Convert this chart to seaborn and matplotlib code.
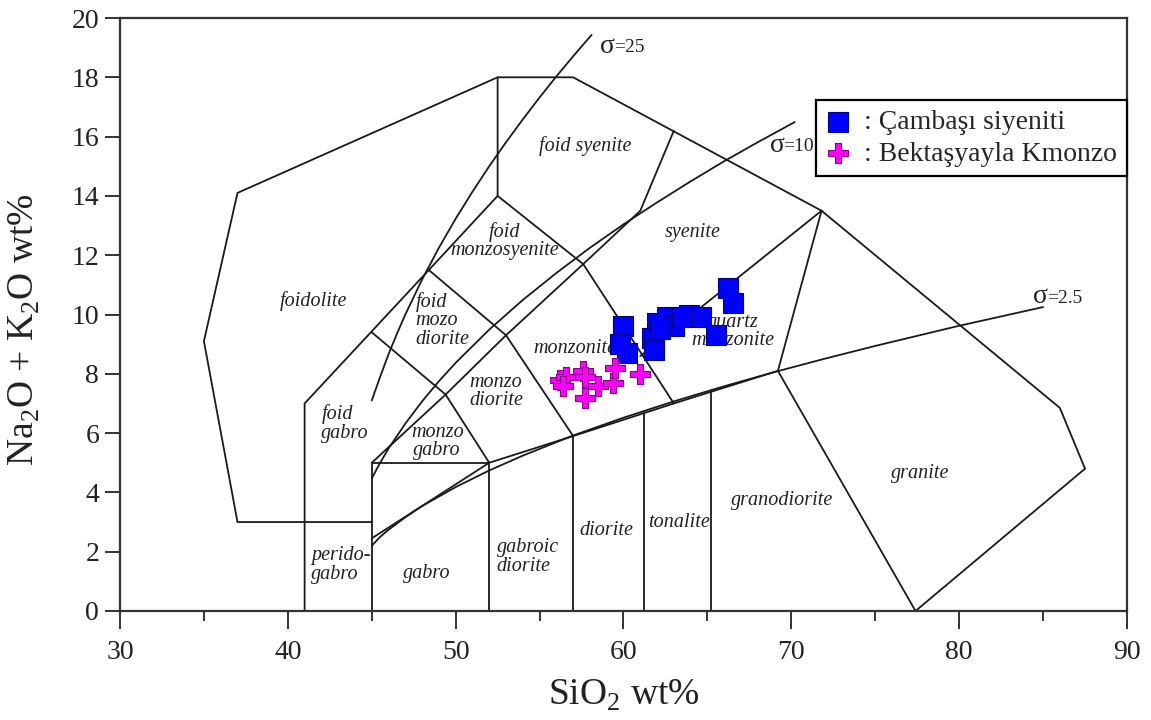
import matplotlib
matplotlib.use("Agg")
import matplotlib.pyplot as plt
import seaborn as sns
import pandas as pd

# Echantillons (SiO2, Na2O+K2O)
cambasi_sio2 = [66.2, 66.5, 60.0, 59.8, 60.2, 62.0, 62.6, 63.0, 63.9, 64.6, 63.5, 65.5, 61.7, 61.8, 62.2]
cambasi_alk = [10.9, 10.4, 9.6, 9.0, 8.7, 9.7, 9.9, 9.6, 10.0, 9.9, 9.9, 9.3, 9.2, 8.8, 9.5]
bektas_sio2 = [56.2, 56.6, 57.6, 57.7, 57.7, 58.5, 59.4, 59.5, 61.0, 56.4]
bektas_alk = [7.8, 7.9, 8.1, 7.9, 7.2, 7.6, 7.7, 8.2, 8.0, 7.6]

series_labels = [": Çambaşı siyeniti", ": Bektaşyayla Kmonzo"]

# Limites des champs (Middlemost)
outer_line = [(45, 3), (37, 3), (35, 9.1), (37, 14.1), (52.5, 18), (57, 18), (71.8, 13.5),
              (86, 6.85), (87.5, 4.8), (77.4, 0), (69.2, 8.1), (71.8, 13.5)]
foid_edge = [(41, 0), (41, 7), (48.4, 11.5), (52.5, 14), (52.5, 18)]
foid_gabbro_top = [(45, 9.4), (49.4, 7.3), (52, 5)]
foid_monzo_line = [(48.4, 11.5), (53, 9.3), (57, 5.9)]
foid_syenite_base = [(52.5, 14), (57.6, 11.7), (63, 7)]
foid_limit = [(45, 5), (49.4, 7.3), (53, 9.3), (57.6, 11.7), (61, 13.5), (63, 16.2)]
qmz_line = [(61, 8.6), (71.8, 13.5)]
alkali_line = [(45, 2.45), (52, 5), (57, 5.9), (63, 7), (69.2, 8.1)]
gabbro_box = [(45, 0), (45, 5), (52, 5), (52, 0)]
diorite_line = [(57, 0), (57, 5.9)]
tonalite_line = [(61.2, 0), (61.2, 6.7)]
granodiorite_line = [(65.2, 0), (65.2, 7.4)]

# Courbes sigma (Rittmann), points relevés
sigma25 = [(45, 7.1), (45.5, 7.9), (46, 8.66), (46.5, 9.35), (47, 10.0), (48, 11.18),
           (49, 12.25), (50, 13.23), (51, 14.14), (52, 15.0), (53, 15.81), (54, 16.58),
           (55, 17.32), (56, 18.03), (57, 18.71), (58.1, 19.43)]
sigma10 = [(45, 4.47), (45.5, 5.0), (46, 5.48), (47, 6.32), (48, 7.07), (49, 7.75), (50, 8.37),
           (52, 9.49), (54, 10.49), (56, 11.4), (58, 12.25), (60, 13.04), (62, 13.78),
           (64, 14.49), (66, 15.17), (68, 15.81), (70.2, 16.49)]
sigma25b = [(45, 2.2), (45.5, 2.5), (46, 2.74), (47, 3.16), (48, 3.54), (50, 4.18), (52, 4.74),
            (54, 5.24), (57, 5.92), (60, 6.52), (63, 7.07), (66, 7.58), (69, 8.06),
            (72, 8.51), (75, 8.94), (80, 9.62), (85, 10.25)]

field_names = ["foid syenite", "foid\nmonzosyenite", "syenite", "foidolite", "monzonite",
               "quartz\nmonzonite", "monzo\ndiorite", "monzo\ngabro", "gabro", "diorite",
               "tonalite", "granodiorite", "granite"]
field_pos = [(57.7, 15.68), (52.9, 12.47), (64.15, 12.77), (41.5, 10.47), (57.1, 8.85),
             (66.5, 9.43), (52.4, 7.4), (48.9, 5.71), (48.3, 1.25), (58.96, 2.7),
             (63.3, 3.0), (69.45, 3.72), (77.7, 4.63)]
left_names = ["foid\nmozo\ndiorite", "foid\ngabro", "perido-\ngabro", "gabroic\ndiorite"]
left_pos = [(47.6, 9.8), (42.0, 6.32), (41.4, 1.55), (52.45, 1.82)]
sigma_values = ["=25", "=10", "=2.5"]
sigma_pos = [(58.6, 19.05), (68.7, 15.7), (84.4, 10.6)]

sns.set_theme(style="ticks")
plt.rcParams['font.family'] = ['Liberation Serif', 'DejaVu Serif']
plt.rcParams['mathtext.fontset'] = 'custom'
plt.rcParams['mathtext.rm'] = 'Liberation Serif'

fig = plt.figure(figsize=(11.51, 7.2), dpi=100)
ax = fig.add_axes([120 / 1151, 109 / 720, 1007 / 1151, 593 / 720])

lc = "#1a1a1a"
for line in [outer_line, foid_edge, foid_gabbro_top, foid_monzo_line, foid_syenite_base,
             foid_limit, qmz_line, alkali_line, gabbro_box, diorite_line, tonalite_line,
             granodiorite_line, sigma25, sigma10, sigma25b]:
    xs = [p[0] for p in line]
    ys = [p[1] for p in line]
    ax.plot(xs, ys, color=lc, lw=1.3, solid_joinstyle="miter")

for name, (x, y) in zip(field_names, field_pos):
    ax.text(x, y, name, ha="center", va="center", fontsize=14.5, style="italic",
            linespacing=0.95, color="#222222")
for name, (x, y) in zip(left_names, left_pos):
    ax.text(x, y, name, ha="left", va="center", fontsize=14.5, style="italic",
            linespacing=0.95, color="#222222")
for val, (x, y) in zip(sigma_values, sigma_pos):
    ax.text(x, y, "σ", ha="left", va="center", fontsize=20, color="#222222")
    ax.annotate(val, (x, y), xytext=(10, -1), textcoords="offset points",
                ha="left", va="center", fontsize=14, color="#222222")

df_c = pd.DataFrame({"SiO2": cambasi_sio2, "alk": cambasi_alk})
df_b = pd.DataFrame({"SiO2": bektas_sio2, "alk": bektas_alk})
sns.scatterplot(data=df_c, x="SiO2", y="alk", marker="s", s=200, color="#0000ff",
                edgecolor="#00008b", linewidth=0.8, label=series_labels[0], ax=ax, zorder=5)
sns.scatterplot(data=df_b, x="SiO2", y="alk", marker="P", s=190, color="#ff00ff",
                edgecolor="#8b008b", linewidth=0.8, label=series_labels[1], ax=ax, zorder=6)

ax.set_xlim(30, 90)
ax.set_ylim(0, 20)
ax.set_xticks(range(30, 91, 10))
ax.set_xticks(range(35, 90, 10), minor=True)
ax.set_yticks(range(0, 21, 2))
ax.tick_params(axis="x", which="major", direction="out", length=13, width=1.3,
               labelsize=20, pad=8, colors="#222222")
ax.tick_params(axis="x", which="minor", direction="out", length=7, width=1.3)
ax.tick_params(axis="y", direction="out", length=11, width=1.3, labelsize=20, pad=4,
               colors="#222222")
for sp in ax.spines.values():
    sp.set_linewidth(1.6)
    sp.set_color("#333333")

ax.set_xlabel("SiO$_\\mathregular{2}$ wt%", fontsize=27, labelpad=9, color="#222222")
ax.set_ylabel("Na$_\\mathregular{2}$O + K$_\\mathregular{2}$O wt%", fontsize=27,
              color="#222222")
ax.yaxis.set_label_coords(-0.077, 0.474)

leg = ax.legend(loc="upper left", bbox_to_anchor=(0.691, 0.732, 0.309, 0.130), mode="expand",
                borderaxespad=0, fontsize=20, frameon=True, fancybox=False, framealpha=1,
                edgecolor="black", handlelength=0.9, handletextpad=0.5, borderpad=0.35,
                labelspacing=0.22)
leg.get_frame().set_linewidth(1.6)
leg.set_zorder(10)

fig.savefig("out.png", dpi=100)
